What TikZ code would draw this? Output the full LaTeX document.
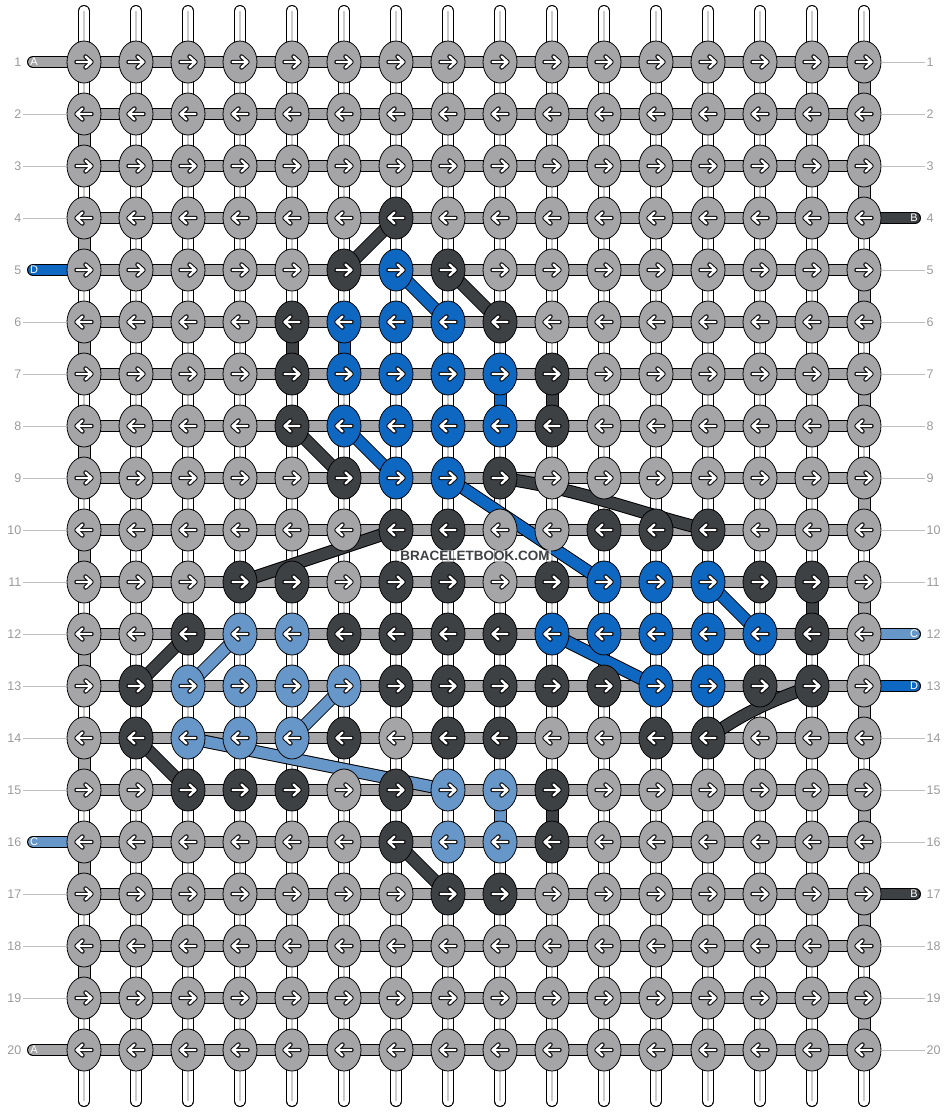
\documentclass[tikz,border=0pt]{standalone}
\usepackage{fontspec}
\setmainfont{Liberation Sans}
\usepackage{xstring}
\usetikzlibrary{shapes.geometric}

\definecolor{colA}{HTML}{A5A4A7}
\definecolor{colB}{HTML}{3E4144}
\definecolor{colC}{HTML}{6797C9}
\definecolor{colD}{HTML}{0E67C1}
\definecolor{numgray}{HTML}{9A9A9A}

\pgfdeclarelayer{back}
\pgfdeclarelayer{strands}
\pgfsetlayers{back,strands,main}

\tikzset{
  knot/.style={ellipse, draw=black, line width=0.8pt, minimum width=34pt, minimum height=42pt, inner sep=0pt},
  strand/.style={line width=1pt, draw=black, double=#1, double distance=11pt},
  stub/.style={strand=#1, double distance=10pt, line cap=round},
  tube/.style={line width=1pt, draw=black, double=white, double distance=10pt, line cap=round},
  rownum/.style={text=numgray, font=\fontsize{12.5}{12.5}\selectfont, inner sep=1.5pt},
  stubtxt/.style={text=white, font=\fontsize{11}{11}\selectfont, inner sep=0pt},
  guide/.style={draw=black!25, line width=0.8pt},
  wmark/.style={fill=white, fill opacity=0.6, text opacity=1, text=colB, font=\bfseries\fontsize{13.5}{13.5}\selectfont, inner sep=1pt},
  knotarrow/.pic={
    \draw[line width=4.4pt, line cap=round, line join=round] (-7.5,0) -- (7,0) (1.5,-5.5) -- (7.5,0) -- (1.5,5.5);
    \draw[white, line width=2.4pt, line cap=round, line join=round] (-7.5,0) -- (7,0) (1.5,-5.5) -- (7.5,0) -- (1.5,5.5);
  }
}

\begin{document}
\begin{tikzpicture}[x=1pt, y=-1pt]
  \useasboundingbox (0,0) rectangle (948,1112);

  % knots, one row string per row
  \foreach \r/\s in {1/AAAAAAAAAAAAAAAA, 2/AAAAAAAAAAAAAAAA, 3/AAAAAAAAAAAAAAAA,
      4/AAAAAABAAAAAAAAA, 5/AAAAABDBAAAAAAAA, 6/AAAABDDDBAAAAAAA,
      7/AAAABDDDDBAAAAAA, 8/AAAABDDDDBAAAAAA, 9/AAAAABDDBAAAAAAA,
      10/AAAAAABBAABBBAAA, 11/AAABBABBABDDDBBA, 12/AABCCBBBBDDDDDBA,
      13/ABCCCCBBBBBDDBBA, 14/ABCCCBABBAABBAAA, 15/AABBBABCCBAAAAAA,
      16/AAAAAABCCBAAAAAA, 17/AAAAAAABBAAAAAAA, 18/AAAAAAAAAAAAAAAA,
      19/AAAAAAAAAAAAAAAA, 20/AAAAAAAAAAAAAAAA} {
    \foreach \c in {1,...,16} {
      \StrChar{\s}{\c}[\k]
      \node[knot, fill=col\k] (n-\r-\c) at ({32+52*\c},{10+52*\r}) {};
      \ifodd\r\relax \pic at (n-\r-\c) {knotarrow}; \else \pic[xscale=-1] at (n-\r-\c) {knotarrow}; \fi
    }
  }

  % base strings and row bars
  \begin{pgfonlayer}{back}
    \foreach \c in {1,...,16} {
      \coordinate (t-\c) at ({32+52*\c},11);
      \coordinate (b-\c) at ({32+52*\c},1101);
      \draw[tube] (t-\c) -- (b-\c);
      \draw[black!20, line width=2pt] (t-\c) -- (b-\c);
    }
    \foreach \r in {1,...,20}
      \draw[strand=colA, double distance=10pt] (n-\r-1.center) -- (n-\r-16.center);
  \end{pgfonlayer}

  % coloured strands between rows
  \begin{pgfonlayer}{strands}
    \foreach \r in {1,3,...,19} {
      \pgfmathtruncatemacro\q{\r+1}
      \draw[strand=colA] (n-\r-16.center) -- (n-\q-16.center);
    }
    \foreach \r in {2,4,...,18} {
      \pgfmathtruncatemacro\q{\r+1}
      \draw[strand=colA] (n-\r-1.center) -- (n-\q-1.center);
    }
    \foreach \a/\b/\k in {4-7/5-6/B, 5-8/6-9/B, 6-5/7-5/B, 7-10/8-10/B, 8-5/9-6/B,
        10-7/11-4/B, 11-15/12-15/B, 12-3/13-2/B,
        14-2/15-3/B, 15-10/16-10/B, 16-7/17-8/B,
        5-7/6-8/D, 6-6/7-6/D, 7-9/8-9/D, 8-6/9-7/D, 9-8/11-11/D, 11-13/12-14/D, 12-10/13-12/D,
        12-4/13-3/C, 13-6/14-5/C, 14-3/15-8/C, 15-9/16-9/C}
      \draw[strand=col\k] (n-\a.center) -- (n-\b.center);
    \draw[strand=colB] (n-9-9.center) to[out=-8, in=166] (n-10-13.center);
    \draw[strand=colB] (n-13-15.center) to[out=-160, in=35] (n-14-13.center);
    \foreach \r/\k in {1/A, 5/D, 16/C, 20/A} {
      \coordinate (sl-\r) at (33,{10+52*\r});
      \draw[stub=col\k] (sl-\r) -- (n-\r-1.center);
    }
    \foreach \r/\k in {4/B, 12/C, 13/D, 17/B} {
      \coordinate (sr-\r) at (915,{10+52*\r});
      \draw[stub=col\k] (sr-\r) -- (n-\r-16.center);
    }
  \end{pgfonlayer}

  % string letters
  \foreach \r/\k in {1/A, 5/D, 16/C, 20/A}
    \node[stubtxt] (tl-\r) at (34,{10+52*\r}) {\k};
  \foreach \r/\k in {4/B, 12/C, 13/D, 17/B}
    \node[stubtxt] (tr-\r) at (914,{10+52*\r}) {\k};

  % row numbers
  \foreach \r in {1,...,20} {
    \node[rownum, anchor=east] (l-\r) at (23,{10+52*\r}) {\r};
    \node[rownum, anchor=west] (rt-\r) at (925,{10+52*\r}) {\r};
  }
  \foreach \r in {2,3,4,6,7,8,9,10,11,12,13,14,15,17,18,19}
    \draw[guide] (l-\r.east) -- (n-\r-1.west);
  \foreach \r in {1,2,3,5,6,7,8,9,10,11,14,15,16,18,19,20}
    \draw[guide] (n-\r-16.east) -- (rt-\r.west);

  \node[wmark] (wm) at (475,556) {BRACELETBOOK.COM};
\end{tikzpicture}
\end{document}
